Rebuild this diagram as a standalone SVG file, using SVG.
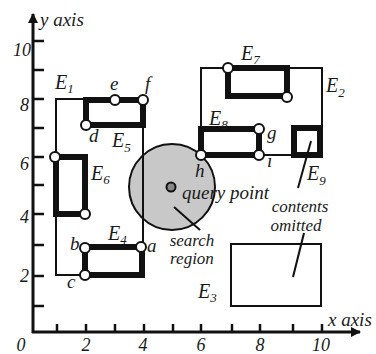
<svg xmlns="http://www.w3.org/2000/svg" width="376" height="354" viewBox="0 0 376 354">
<style>
text{font-family:"Liberation Serif","Times New Roman",serif;font-style:italic;fill:#1a1a1a}
.lbl{font-size:19px}
.note{font-size:17px}
.E{font-size:20px}
.sub{font-size:13px}
.num{font-size:18px}
.thin{fill:none;stroke:#111;stroke-width:2}
.thick{fill:none;stroke:#111;stroke-width:6;stroke-linejoin:miter}
.pt{fill:#fff;stroke:#111;stroke-width:2}
.axis{fill:none;stroke:#111;stroke-width:3}
.tick{stroke:#111;stroke-width:2.5}
.ptr{stroke:#111;stroke-width:2}
</style>
<defs>
<marker id="arr" viewBox="0 0 10 10" refX="9" refY="5" markerWidth="10" markerHeight="10" markerUnits="userSpaceOnUse" orient="auto">
<path d="M0,0 L10,5 L0,10 Z" fill="#111"/>
</marker>
</defs>
<rect width="376" height="354" fill="#fff"/>
<g id="axes">
<path class="axis" d="M33,333 V14" marker-end="url(#arr)"/>
<path class="axis" d="M32,332 H360" marker-end="url(#arr)"/>
<path class="tick" d="M33,41H44M33,70H44M33,99H44M33,128H44M33,157H44M33,185H44M33,214H44M33,245H44M33,276H44M33,306H44"/>
<path class="tick" d="M57,324V332M86,324V332M115,324V332M144,324V332M173,324V332M201,324V332M232,324V332M260,324V332M293,324V332M322,324V332"/>
<text class="lbl" x="40" y="26">y axis</text>
<text class="lbl" x="328" y="326">x axis</text>
<g class="num" text-anchor="end">
<text x="31" y="56">10</text>
<text x="29" y="111">8</text>
<text x="29" y="170">6</text>
<text x="29" y="223">4</text>
<text x="29" y="282">2</text>
</g>
<g class="num" text-anchor="middle">
<text x="21" y="351">0</text>
<text x="86" y="351">2</text>
<text x="143" y="351">4</text>
<text x="201" y="351">6</text>
<text x="260" y="351">8</text>
<text x="321" y="351">10</text>
</g>
</g>
<g id="search-region">
<circle cx="172" cy="187" r="43" fill="#c8c8c8" stroke="#111" stroke-width="2"/>
<circle cx="171" cy="187" r="4.5" fill="#888" stroke="#111" stroke-width="2"/>
</g>
<g id="E1">
<rect class="thin" x="56" y="99" width="87" height="176"/>
<text class="E" x="55" y="89">E<tspan class="sub" dy="4">1</tspan></text>
</g>
<g id="E2">
<rect class="thin" x="201" y="68" width="121" height="87"/>
<text class="E" x="326" y="92">E<tspan class="sub" dy="5">2</tspan></text>
</g>
<g id="E3">
<rect class="thin" x="231" y="244" width="90" height="62"/>
<text class="E" x="198" y="298">E<tspan class="sub" dy="4">3</tspan></text>
</g>
<g id="E5">
<rect class="thick" x="86" y="100" width="57" height="25"/>
<circle class="pt" cx="115" cy="100" r="5"/>
<circle class="pt" cx="143" cy="100" r="5"/>
<circle class="pt" cx="86" cy="125" r="5"/>
<text class="lbl" x="110" y="90">e</text>
<text class="lbl" x="145" y="90">f</text>
<text class="lbl" x="89" y="142">d</text>
<text class="E" x="112" y="147">E<tspan class="sub" dy="5">5</tspan></text>
</g>
<g id="E6">
<rect class="thick" x="56" y="157" width="29" height="57"/>
<circle class="pt" cx="55" cy="157" r="5"/>
<circle class="pt" cx="85" cy="214" r="5"/>
<text class="E" x="91" y="180">E<tspan class="sub" dy="4">6</tspan></text>
</g>
<g id="E4">
<rect class="thick" x="85" y="247" width="57" height="28"/>
<circle class="pt" cx="85" cy="248" r="5"/>
<circle class="pt" cx="141" cy="247" r="5"/>
<circle class="pt" cx="85" cy="275" r="5"/>
<text class="lbl" x="70" y="250">b</text>
<text class="lbl" x="147" y="252">a</text>
<text class="lbl" x="67" y="288">c</text>
<text class="E" x="108" y="240">E<tspan class="sub" dy="4">4</tspan></text>
</g>
<g id="E7">
<rect class="thick" x="228" y="68" width="59" height="28"/>
<circle class="pt" cx="228" cy="68" r="5"/>
<circle class="pt" cx="287" cy="97" r="5"/>
<text class="E" x="241" y="60">E<tspan class="sub" dy="4">7</tspan></text>
</g>
<g id="E8">
<rect class="thick" x="201" y="129" width="58" height="26"/>
<circle class="pt" cx="259" cy="129" r="5"/>
<circle class="pt" cx="259" cy="155" r="5"/>
<circle class="pt" cx="201" cy="155" r="5"/>
<text class="lbl" x="267" y="139">g</text>
<text class="lbl" x="267" y="167">i</text>
<text class="lbl" x="195" y="177">h</text>
<text class="E" x="209" y="125">E<tspan class="sub" dy="4">8</tspan></text>
</g>
<g id="E9">
<rect class="thick" x="294" y="128" width="26" height="27"/>
<text class="E" x="307" y="180">E<tspan class="sub" dy="5">9</tspan></text>
</g>
<g id="connectors">
<line class="ptr" x1="311" y1="141" x2="298" y2="188"/>
<line class="ptr" x1="304" y1="233" x2="293" y2="277"/>
<line class="ptr" x1="174" y1="207" x2="200" y2="230"/>
</g>
<g id="notes" class="note">
<text class="lbl" x="182" y="199">query point</text>
<text x="192" y="246" text-anchor="middle">search</text>
<text x="192" y="264" text-anchor="middle">region</text>
<text x="300" y="212" text-anchor="middle">contents</text>
<text x="296" y="231" text-anchor="middle">omitted</text>
</g>
</svg>
